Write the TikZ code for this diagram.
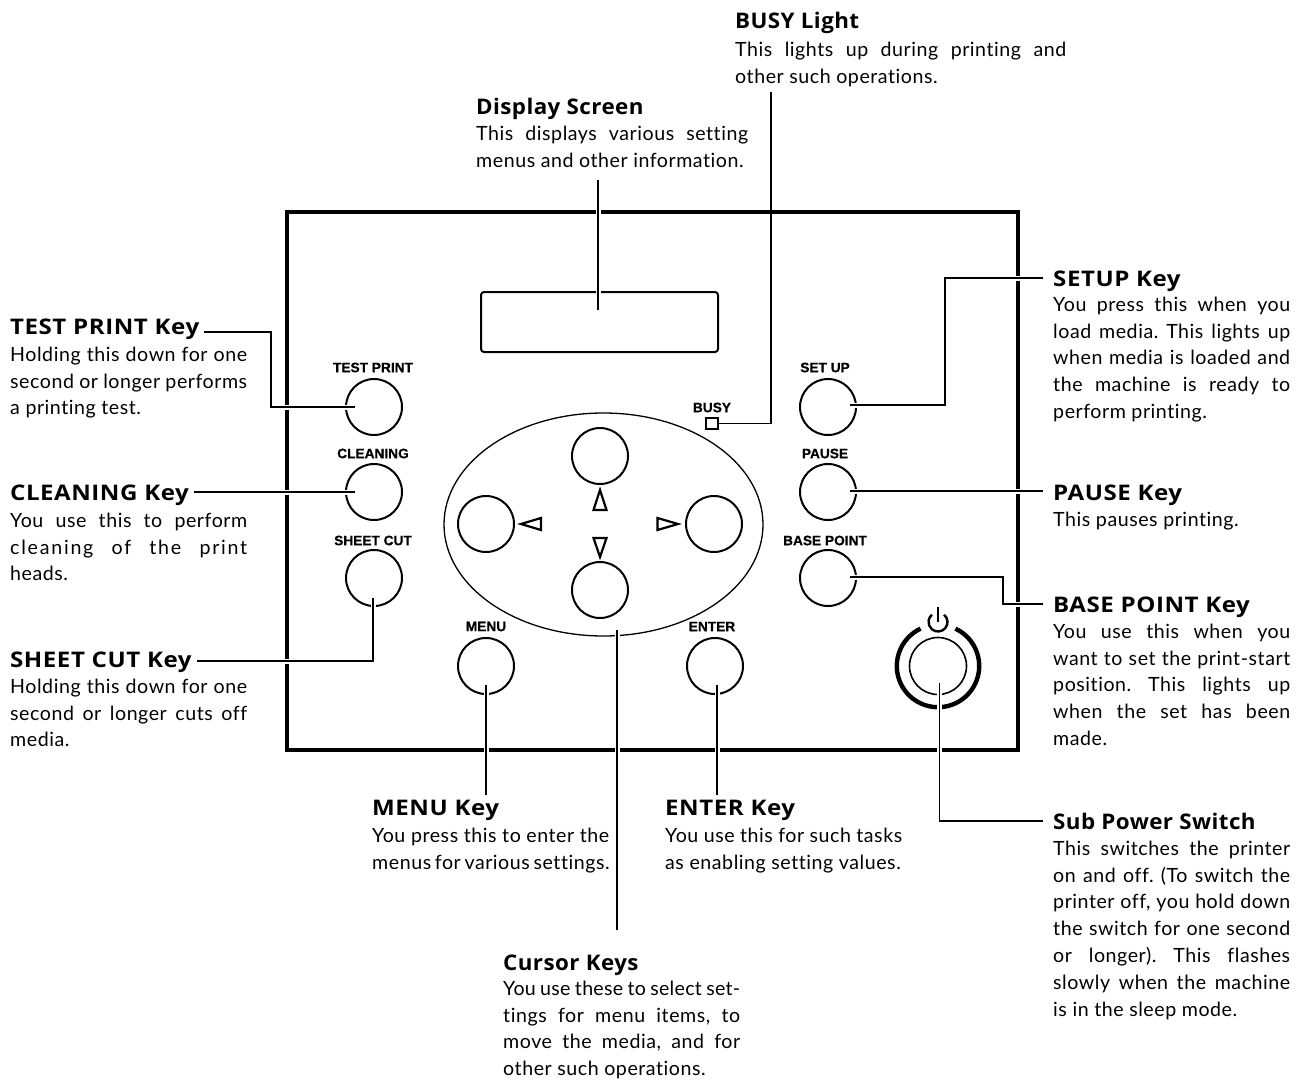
\documentclass[tikz,border=0pt]{standalone}
\usepackage{fontspec}
\usetikzlibrary{shapes.geometric}
\setmainfont{Lato}[LetterSpace=2.8,Ligatures=NoCommon]
\newfontfamily\headfont{Open Sans}[LetterSpace=2,FakeStretch=1.04]
\newfontfamily\capsfont{Open Sans}[LetterSpace=2.5,FakeStretch=1.12]
\newfontfamily\panelfont{Liberation Sans}[BoldFeatures={FakeBold=0.6}]
\newfontfamily\spacedfont{Lato}[LetterSpace=9,Ligatures=NoCommon]
\newfontfamily\tightfont{Lato}[LetterSpace=1.5,Ligatures=NoCommon]
\newcommand\bodysetup{\frenchspacing\tolerance 10000 \hbadness 10000 \strut}
\tikzset{
  head/.style={font=\fontsize{21.5}{26}\capsfont\bfseries, anchor=base west, inner xsep=5pt, inner ysep=0pt},
  headr/.style={font=\fontsize{21.5}{26}\capsfont\bfseries, anchor=base west, inner xsep=10pt, inner ysep=0pt},
  headl/.style={font=\fontsize{21.5}{26}\headfont\bfseries, anchor=base west, inner xsep=5pt, inner ysep=0pt},
  headlr/.style={font=\fontsize{21.5}{26}\headfont\bfseries, anchor=base west, inner xsep=10pt, inner ysep=0pt},
  body/.style={font=\fontsize{19.6}{26.8}\selectfont, anchor=north west, inner sep=0pt, yshift=18.76pt, align=justify, execute at begin node={\bodysetup}},
  key/.style={circle, draw=black, line width=2pt, minimum size=56pt, inner sep=0pt},
  keylabel/.style={font=\fontsize{13.7}{14}\panelfont\bfseries, inner sep=0pt},
  conn/.style={draw=black, line width=1.4pt, line join=miter, preaction={draw=white, line width=5pt}},
  tri/.style={draw=black, line width=2.2pt, line join=miter}
}
\begin{document}
\begin{tikzpicture}[x=1pt,y=-1pt]
\useasboundingbox (0,0) rectangle (1303,1081);
% panel
\node[draw=black, line width=4pt, minimum width=731pt, minimum height=538pt, inner sep=0pt] (panel) at (652.5,481) {};
\node[draw=black, line width=2pt, rounded corners=3pt, minimum width=237pt, minimum height=60pt, inner sep=0pt] (display) at (599.5,322) {};
\node[draw=black, line width=1.3pt, ellipse, minimum width=319pt, minimum height=223pt, inner sep=0pt] (cursorpad) at (603.5,524.5) {};
% keys
\node[key] (ktest) at (374,407) {};
\node[key] (kclean) at (374,492) {};
\node[key] (kcut) at (374,578) {};
\node[key] (kmenu) at (486,666) {};
\node[key] (kenter) at (715,666) {};
\node[key] (ksetup) at (828,407) {};
\node[key] (kpause) at (828,492) {};
\node[key] (kbase) at (828,578) {};
\node[key] (kup) at (600,456) {};
\node[key] (kleft) at (486,524) {};
\node[key] (kright) at (714,524) {};
\node[key] (kdown) at (600,590) {};
% key labels
\node[keylabel] (ltest) at (373,367.5) {TEST PRINT};
\node[keylabel] (lclean) at (373,453.5) {CLEANING};
\node[keylabel] (lcut) at (373,540.5) {SHEET CUT};
\node[keylabel] (lmenu) at (486,626.5) {MENU};
\node[keylabel] (lenter) at (712,626.5) {ENTER};
\node[keylabel] (lsetup) at (825,367.5) {SET UP};
\node[keylabel] (lpause) at (825,453.5) {PAUSE};
\node[keylabel] (lbase) at (825,540.5) {BASE POINT};
\node[keylabel] (lbusy) at (712,407.5) {BUSY};
\node[draw=black, line width=2.2pt, minimum width=12pt, minimum height=11pt, inner sep=0pt] (busy) at (712,423.5) {};
% arrows
\draw[tri] (600,490) -- (593.5,510) -- (606.5,510) -- cycle;
\draw[tri] (600,557) -- (593.5,538) -- (606.5,538) -- cycle;
\draw[tri] (521,524) -- (541,518) -- (541,530) -- cycle;
\draw[tri] (678,524) -- (657.5,518) -- (657.5,530) -- cycle;
% power switch
\node[circle, draw=black, line width=1.6pt, minimum size=57pt, inner sep=0pt] (kpower) at (938,666) {};
\draw[black, line width=4.4pt] (kpower.center) ++(65:41.2pt) arc[start angle=65, end angle=-245, radius=41.2pt];
% headings and texts
\node[headl] (hbusy) at (730,29) {BUSY Light};
\node[body, text width=331pt] (bbusy) at (735,56) {This lights up during printing and\break other such operations.};
\node[headl] (hdisp) at (471,114) {Display Screen};
\node[body, text width=272pt] (bdisp) at (476,140) {This displays various setting\break menus and other information.};
\node[head] (htest) at (5,334) {TEST PRINT Key};
\node[body, text width=237pt] (btest) at (10,361) {Holding this down for one\break second or longer performs\break a printing test.};
\node[head] (hclean) at (5,500) {CLEANING Key};
\node[body, text width=237pt] (bclean) at (10,527) {You use this to perform\break {\spacedfont cleaning of the print}\break heads.};
\node[head] (hcut) at (5,667) {SHEET CUT Key};
\node[body, text width=237pt] (bcut) at (10,693) {Holding this down for one\break second or longer cuts off\break media.};
\node[head] (hmenu) at (367,815) {MENU Key};
\node[body, text width=237pt] (bmenu) at (372,842) {You press this to enter the\break menus for various settings.};
\node[head] (henter) at (660,815) {ENTER Key};
\node[body, text width=237pt] (benter) at (665,842) {You use this for such tasks\break as enabling setting values.};
\node[headl] (hcursor) at (498,970) {Cursor Keys};
\node[body, text width=237pt] (bcursor) at (503,995) {{\tightfont You use these to select set-}\break tings for menu items, to\break move the media, and for\break other such operations.};
\node[headr] (hsetup) at (1043,286) {SETUP Key};
\node[body, text width=237pt] (bsetup) at (1053,311) {You press this when you\break load media. This lights up\break when media is loaded and\break the machine is ready to\break perform printing.};
\node[headr] (hpause) at (1043,500) {PAUSE Key};
\node[body, text width=237pt] (bpause) at (1053,526) {This pauses printing.};
\node[headr] (hbase) at (1043,612) {BASE POINT Key};
\node[body, text width=237pt] (bbase) at (1053,638) {You use this when you\break want to set the print-start\break position. This lights up\break when the set has been\break made.};
\node[headlr] (hpower) at (1043,829) {Sub Power Switch};
\node[body, text width=237pt] (bpower) at (1053,855) {This switches the printer\break on and off. (To switch the\break printer off, you hold down\break the switch for one second\break or longer). This flashes\break slowly when the machine\break is in the sleep mode.};
% connector bends and ends
\coordinate (ctest1) at (271,332);
\coordinate (ctest2) at (271,407);
\coordinate (ctest3) at (355,407);
\coordinate (cclean) at (355,492);
\coordinate (ccut1) at (373,661);
\coordinate (ccut2) at (373,598);
\coordinate (cmenu1) at (486,795);
\coordinate (cmenu2) at (486,685);
\coordinate (center1) at (717,795);
\coordinate (center2) at (717,685);
\coordinate (ccur1) at (617,930);
\coordinate (ccur2) at (617,630);
\coordinate (cdisp1) at (598,180);
\coordinate (cdisp2) at (598,310);
\coordinate (cbusy1) at (771,92);
\coordinate (cbusy2) at (771,423.5);
\coordinate (cset1) at (945,278);
\coordinate (cset2) at (945,405);
\coordinate (cset3) at (850,405);
\coordinate (cpause) at (850,491);
\coordinate (cbase1) at (1003,604);
\coordinate (cbase2) at (1003,577);
\coordinate (cbase3) at (850,577);
\coordinate (cpow1) at (939.5,821);
\coordinate (cpow2) at (939.5,683);
% connectors
\draw[conn] (htest.east |- ctest1) -- (ctest1) -- (ctest2) -- (ctest3);
\draw[conn] (hclean.east |- cclean) -- (cclean);
\draw[conn] (hcut.east |- ccut1) -- (ccut1) -- (ccut2);
\draw[conn] (cmenu1) -- (cmenu2);
\draw[conn] (center1) -- (center2);
\draw[conn] (ccur1) -- (ccur2);
\draw[conn] (cdisp1) -- (cdisp2);
\draw[draw=black, line width=1.4pt] (cbusy1) -- (cbusy2) -- (busy.east);
\draw[conn] (hsetup.west |- cset1) -- (cset1) -- (cset2) -- (cset3);
\draw[conn] (hpause.west |- cpause) -- (cpause);
\draw[conn] (hbase.west |- cbase1) -- (cbase1) -- (cbase2) -- (cbase3);
\draw[conn] (hpower.west |- cpow1) -- (cpow1) -- (cpow2);
% power symbol
\draw[black, line width=2.4pt] (938,622) ++(50:9.5pt) arc[start angle=50, end angle=-230, radius=9.5pt];
\draw[black, line width=2.6pt] (938,607) -- (938,622);
\end{tikzpicture}
\end{document}
